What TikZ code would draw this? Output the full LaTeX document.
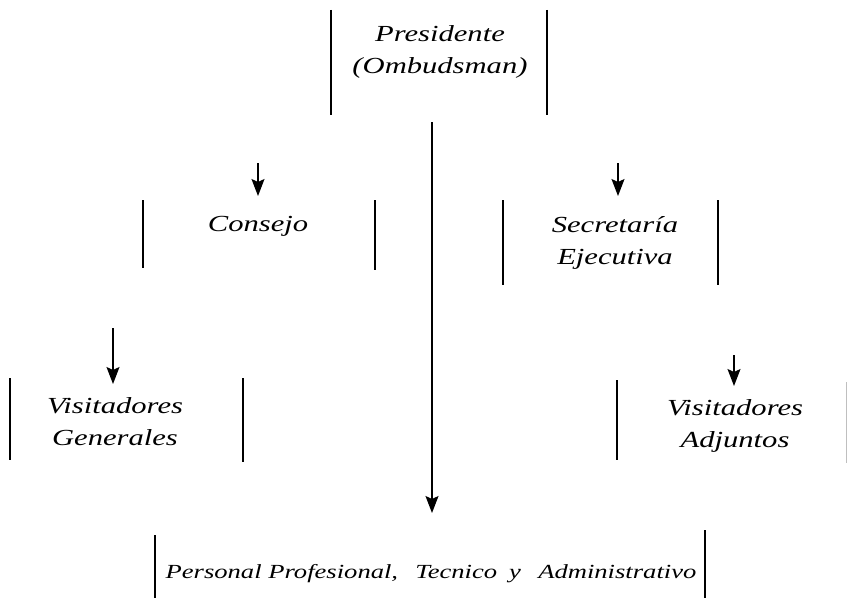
\documentclass[tikz,border=0pt]{standalone}
\usepackage{fontspec}
\usepackage{graphicx}
\setmainfont{Liberation Serif}
\usetikzlibrary{arrows.meta}
\newcommand{\stretchx}[1]{\scalebox{1.33}[1]{#1}}
\tikzset{
  bar/.style={line width=1.6pt, black},
  faintbar/.style={line width=1pt, black!25},
  lbl/.style={inner sep=0pt, align=center, font=\fontsize{23}{32}\selectfont\itshape},
  lblsmall/.style={inner sep=0pt, align=center, font=\fontsize{20}{28}\selectfont\itshape},
  arr/.style={line width=1.3pt, -{Stealth[length=17pt,width=13pt,inset=3pt]}},
}
\begin{document}
\begin{tikzpicture}[x=1pt,y=-1pt]
\useasboundingbox (0,0) rectangle (848,602);
% box bar end points
\coordinate (presLt) at (331,10);  \coordinate (presLb) at (331,115);
\coordinate (presRt) at (547,10);  \coordinate (presRb) at (547,115);
\coordinate (conLt) at (143,200);  \coordinate (conLb) at (143,268);
\coordinate (conRt) at (375,200);  \coordinate (conRb) at (375,270);
\coordinate (secLt) at (503,200);  \coordinate (secLb) at (503,285);
\coordinate (secRt) at (718,200);  \coordinate (secRb) at (718,285);
\coordinate (vgLt) at (10,378);    \coordinate (vgLb) at (10,460);
\coordinate (vgRt) at (243,378);   \coordinate (vgRb) at (243,462);
\coordinate (vaLt) at (617,380);   \coordinate (vaLb) at (617,460);
\coordinate (vaRt) at (846,382);   \coordinate (vaRb) at (846,463);
\coordinate (botLt) at (155,535);  \coordinate (botLb) at (155,598);
\coordinate (botRt) at (705,530);  \coordinate (botRb) at (705,598);
% bars
\draw[bar] (presLt) -- (presLb);  \draw[bar] (presRt) -- (presRb);
\draw[bar] (conLt) -- (conLb);    \draw[bar] (conRt) -- (conRb);
\draw[bar] (secLt) -- (secLb);    \draw[bar] (secRt) -- (secRb);
\draw[bar] (vgLt) -- (vgLb);      \draw[bar] (vgRt) -- (vgRb);
\draw[bar] (vaLt) -- (vaLb);      \draw[faintbar] (vaRt) -- (vaRb);
\draw[bar] (botLt) -- (botLb);    \draw[bar] (botRt) -- (botRb);
% labels
\node[lbl] (pres) at (440,52) {\stretchx{Presidente}\\\stretchx{(Ombudsman)}};
\node[lbl] (con) at (258,226) {\stretchx{Consejo}};
\node[lbl] (sec) at (615,243) {\stretchx{Secretaría}\\\stretchx{Ejecutiva}};
\node[lbl] (vg) at (115,422) {\stretchx{Visitadores}\\\stretchx{Generales}};
\node[lbl] (va) at (735,426) {\stretchx{Visitadores}\\\stretchx{Adjuntos}};
\node[lblsmall] (bot) at (431,574) {\stretchx{Personal Profesional,\hspace{8pt} Tecnico\hspace{4pt} y\hspace{8pt} Administrativo}};
% arrows
\coordinate (cA) at (258,163); \coordinate (cB) at (258,196);
\coordinate (sA) at (618,163); \coordinate (sB) at (618,196);
\coordinate (gA) at (113,328); \coordinate (gB) at (113,384);
\coordinate (aA) at (734,355); \coordinate (aB) at (734,386);
\coordinate (mA) at (432,122); \coordinate (mB) at (432,513);
\draw[arr] (cA) -- (cB);
\draw[arr] (sA) -- (sB);
\draw[arr] (gA) -- (gB);
\draw[arr] (aA) -- (aB);
\draw[arr] (mA) -- (mB);
\end{tikzpicture}
\end{document}
